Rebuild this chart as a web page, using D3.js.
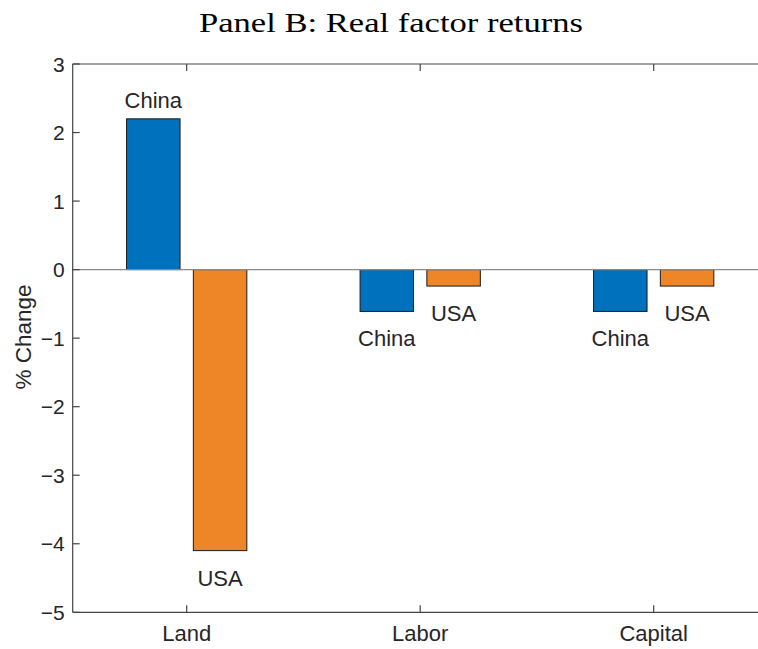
<!DOCTYPE html>
<html>
<head>
<meta charset="utf-8">
<script src="https://cdn.jsdelivr.net/npm/d3@7"></script>
<style>
  body { margin: 0; background: #fff; }
  text { font-family: Arial, "Liberation Sans", sans-serif; fill: #262626; }
</style>
</head>
<body>
<div id="chart"></div>
<script>
var categories = ["Land", "Labor", "Capital"];
var countries = ["China", "USA"];
var china = [2.2, -0.61, -0.61];
var usa = [-4.1, -0.24, -0.24];
var yTicks = [3, 2, 1, 0, -1, -2, -3, -4, -5];

var outerWidth = 758,
    outerHeight = 649,
    axLeft = 72.7,
    axTop = 64,
    axBottom = 612.3;

var colors = {China: "#0072BD", USA: "#EE8628"};

// category index 1..3 -> pixels
var x = d3.scaleLinear()
    .domain([1, 3])
    .range([186.7, 653.7]);

var y = d3.scaleLinear()
    .domain([-5, 3])
    .range([axBottom, axTop]);

var svg = d3.select("#chart")
    .append("svg")
        .attr("width", outerWidth)
        .attr("height", outerHeight);

var axRight = x(3.55);
var offset = 0.143, barW = 0.229;

var data = [];
categories.forEach(function(c, i) {
    data.push({cat: i + 1, country: "China", value: china[i]});
    data.push({cat: i + 1, country: "USA", value: usa[i]});
});

function bx(d) {
    return x(d.cat + (d.country == "China" ? -offset : offset));
}

// bars
svg.selectAll(".bar")
    .data(data)
    .enter().append("rect")
    .attr("x", function(d) { return bx(d) - (x(1 + barW) - x(1)) / 2; })
    .attr("width", x(1 + barW) - x(1))
    .attr("y", function(d) { return y(Math.max(0, d.value)); })
    .attr("height", function(d) { return Math.abs(y(d.value) - y(0)); })
    .style("fill", function(d) { return colors[d.country]; })
    .style("stroke", "#1a1a1a")
    .style("stroke-width", 1);

// baseline
svg.append("line")
    .attr("x1", axLeft).attr("x2", axRight)
    .attr("y1", y(0)).attr("y2", y(0))
    .style("stroke", "#8a8a8a")
    .style("stroke-width", 1.3);

// bar labels
svg.selectAll(".lbl")
    .data(data)
    .enter().append("text")
    .attr("x", bx)
    .attr("y", function(d) { return d.value > 0 ? y(d.value) - 11 : y(d.value) + 35; })
    .attr("text-anchor", "middle")
    .style("font-size", "22px")
    .text(function(d) { return d.country; });

// axes frame
[[axLeft, axTop, axRight, axTop], [axLeft, axBottom, axRight, axBottom], [axLeft, axTop, axLeft, axBottom]]
    .forEach(function(l) {
        svg.append("line")
            .attr("x1", l[0]).attr("y1", l[1]).attr("x2", l[2]).attr("y2", l[3])
            .style("stroke", "#444").style("stroke-width", 1.2);
    });

// y ticks
svg.selectAll(".ytick")
    .data(yTicks)
    .enter().append("line")
    .attr("x1", axLeft).attr("x2", axLeft + 7)
    .attr("y1", y).attr("y2", y)
    .style("stroke", "#444").style("stroke-width", 1.2);

svg.selectAll(".ylab")
    .data(yTicks)
    .enter().append("text")
    .attr("x", axLeft - 8)
    .attr("y", function(d) { return y(d) + 7.5; })
    .attr("text-anchor", "end")
    .style("font-size", "21px")
    .text(function(d) { return d < 0 ? "\u2212" + (-d) : d; });

// x ticks, top and bottom
categories.forEach(function(c, i) {
    svg.append("line")
        .attr("x1", x(i + 1)).attr("x2", x(i + 1))
        .attr("y1", axTop).attr("y2", axTop + 7)
        .style("stroke", "#444").style("stroke-width", 1.2);
    svg.append("line")
        .attr("x1", x(i + 1)).attr("x2", x(i + 1))
        .attr("y1", axBottom).attr("y2", axBottom - 7)
        .style("stroke", "#444").style("stroke-width", 1.2);
    svg.append("text")
        .attr("x", x(i + 1))
        .attr("y", axBottom + 29)
        .attr("text-anchor", "middle")
        .style("font-size", "22px")
        .text(c);
});

svg.append("text")
    .attr("transform", "translate(31,337) rotate(-90)")
    .attr("text-anchor", "middle")
    .style("font-size", "22.5px")
    .text("% Change");

svg.append("text")
    .attr("x", 391)
    .attr("y", 32)
    .attr("text-anchor", "middle")
    .attr("textLength", 384)
    .attr("lengthAdjust", "spacingAndGlyphs")
    .style("font-family", "'Liberation Serif', 'DejaVu Serif', serif")
    .style("font-size", "28px")
    .style("fill", "#000")
    .text("Panel B: Real factor returns");
</script>
</body>
</html>
